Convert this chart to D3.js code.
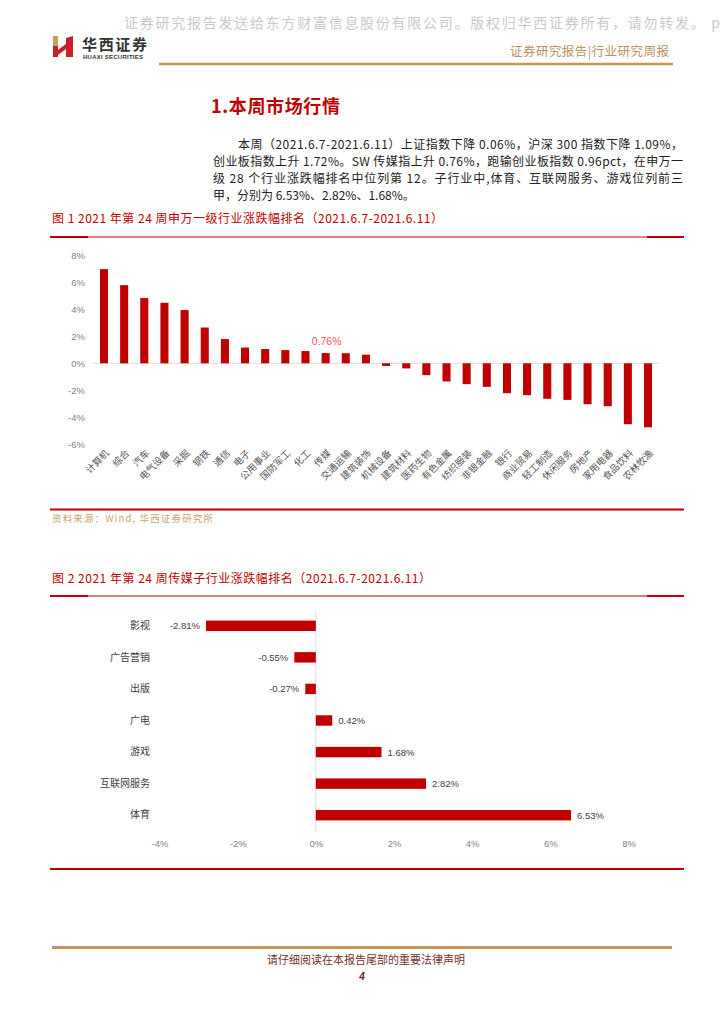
<!DOCTYPE html>
<html lang="zh">
<head>
<meta charset="utf-8" />
<title>行业研究周报</title>
<script src="https://d3js.org/d3.v7.min.js"></script>
<style>
  body { margin: 0; background: #fff; }
  svg text { font-family: "Noto Sans CJK SC", "Liberation Sans", sans-serif; }
  svg text.num { font-family: "Liberation Sans", "Noto Sans CJK SC", sans-serif; }
</style>
</head>
<body>
<script>
// ---- 图1：申万一级行业涨跌幅 (%) ----
var industries = ["计算机","综合","汽车","电气设备","采掘","钢铁","通信","电子","公用事业","国防军工",
  "化工","传媒","交通运输","建筑装饰","机械设备","建筑材料","医药生物","有色金属","纺织服装","非银金融",
  "银行","商业贸易","轻工制造","休闲服务","房地产","家用电器","食品饮料","农林牧渔"];
var industryChg = [7.00, 5.81, 4.85, 4.50, 3.96, 2.66, 1.80, 1.17, 1.06, 0.98,
  0.91, 0.76, 0.75, 0.64, -0.20, -0.38, -0.88, -1.35, -1.55, -1.75,
  -2.22, -2.37, -2.64, -2.72, -3.04, -3.19, -4.53, -4.76];
var yTicks1 = [8, 6, 4, 2, 0, -2, -4, -6];
var highlight1 = "传媒";

// ---- 图2：传媒子行业涨跌幅 (%) ----
var subIndustries = ["影视","广告营销","出版","广电","游戏","互联网服务","体育"];
var subChg = [-2.81, -0.55, -0.27, 0.42, 1.68, 2.82, 6.53];
var xTicks2 = [-4, -2, 0, 2, 4, 6, 8];

// ---- 页面文字 ----
var watermark = "证券研究报告发送给东方财富信息股份有限公司。版权归华西证券所有，请勿转发。 p";
var headerRight = "证券研究报告|行业研究周报";
var sectionTitle = "1.本周市场行情";
var paraLines = [
  "本周（2021.6.7-2021.6.11）上证指数下降 0.06%，沪深 300 指数下降 1.09%，",
  "创业板指数上升 1.72%。SW 传媒指上升 0.76%，跑输创业板指数 0.96pct，在申万一",
  "级 28 个行业涨跌幅排名中位列第 12。子行业中,体育、互联网服务、游戏位列前三",
  "甲，分别为 6.53%、2.82%、1.68%。"
];
var fig1Title = "图 1 2021 年第 24 周申万一级行业涨跌幅排名（2021.6.7-2021.6.11）";
var fig2Title = "图 2 2021 年第 24 周传媒子行业涨跌幅排名（2021.6.7-2021.6.11）";
var sourceNote = "资料来源：Wind, 华西证券研究所";
var footerNote = "请仔细阅读在本报告尾部的重要法律声明";
var pageNo = "4";

var red = "#c00000", gold = "#c8965a", goldText = "#b8925a";

var svg = d3.select("body").append("svg")
  .attr("width", 724).attr("height", 1024);

// header
svg.append("text").text(watermark)
  .attr("x", 124).attr("y", 22).attr("dominant-baseline", "central")
  .attr("font-size", 14).attr("fill", "#c9c9c9")
  .attr("textLength", 596).attr("lengthAdjust", "spacing");

var logo = svg.append("g");
logo.append("rect").attr("x", 53).attr("y", 36).attr("width", 5).attr("height", 10).attr("fill", "#c4a064");
logo.append("rect").attr("x", 53).attr("y", 46).attr("width", 5).attr("height", 11).attr("fill", "#c8202a");
logo.append("path").attr("d", "M66,38 L73,36 L73,57 L66,57 Z").attr("fill", "#c8202a");
logo.append("path").attr("d", "M58,50 L66,44 L66,49 L58,55 Z").attr("fill", "#c8202a");
svg.append("text").text("华西证券")
  .attr("x", 82).attr("y", 43.5).attr("dominant-baseline", "central")
  .attr("font-size", 15).attr("font-weight", "bold").attr("fill", "#333")
  .attr("textLength", 65);
svg.append("text").text("HUAXI SECURITIES").attr("class", "num")
  .attr("x", 83).attr("y", 57).attr("dominant-baseline", "central")
  .attr("font-size", 6).attr("font-weight", "bold").attr("fill", "#333")
  .attr("textLength", 60);
svg.append("text").text(headerRight)
  .attr("x", 510).attr("y", 50).attr("dominant-baseline", "central")
  .attr("font-size", 12.5).attr("fill", goldText).attr("textLength", 159);
svg.append("line").attr("x1", 159).attr("x2", 673).attr("y1", 64).attr("y2", 64)
  .attr("stroke", gold).attr("stroke-width", 2.5);

// section title + paragraph
svg.append("text").text(sectionTitle)
  .attr("x", 211).attr("y", 105).attr("dominant-baseline", "central")
  .attr("font-size", 18).attr("font-weight", "bold").attr("fill", red)
  .attr("textLength", 129);

svg.append("g").selectAll("text")
  .data(paraLines)
  .join("text")
  .text(d => d)
  .attr("x", (d, i) => i === 0 ? 238 : 213)
  .attr("y", (d, i) => 143 + i * 17)
  .attr("dominant-baseline", "central")
  .attr("font-size", 12).attr("fill", "#222")
  .each(function (d, i) {
    if (i < paraLines.length - 1) {
      d3.select(this).attr("textLength", 683 - (i === 0 ? 238 : 213)).attr("lengthAdjust", "spacing");
    }
  });

// figure titles and rules
function figRule(y) {
  svg.append("line").attr("x1", 50).attr("x2", 684).attr("y1", y).attr("y2", y)
    .attr("stroke", red).attr("stroke-width", 1.2);
  svg.append("line").attr("x1", 50).attr("x2", 88).attr("y1", y).attr("y2", y)
    .attr("stroke", red).attr("stroke-width", 2);
  svg.append("line").attr("x1", 647).attr("x2", 684).attr("y1", y).attr("y2", y)
    .attr("stroke", red).attr("stroke-width", 2);
}
svg.append("text").text(fig1Title)
  .attr("x", 52).attr("y", 217).attr("dominant-baseline", "central")
  .attr("font-size", 12).attr("fill", red).attr("textLength", 391);
figRule(237);

// ---------- chart 1 ----------
var x1 = d3.scaleBand().domain(industries).range([93, 659])
  .paddingInner(0.6).paddingOuter(0.346);
var y1 = d3.scaleLinear().domain([-6, 8]).range([444, 255.7]);

var c1 = svg.append("g");
c1.append("line")
  .attr("x1", 93).attr("x2", 659).attr("y1", y1(0)).attr("y2", y1(0))
  .attr("stroke", "#d9d9d9").attr("stroke-width", 1);

c1.append("g").selectAll("rect")
  .data(industries)
  .join("rect")
  .attr("x", d => x1(d))
  .attr("width", x1.bandwidth())
  .attr("y", (d, i) => y1(Math.max(0, industryChg[i])))
  .attr("height", (d, i) => Math.abs(y1(industryChg[i]) - y1(0)))
  .attr("fill", red);

var yAxis1 = c1.append("g")
  .attr("transform", "translate(87,0)")
  .call(d3.axisLeft(y1).tickValues(yTicks1).tickSize(0).tickPadding(2)
    .tickFormat(d => d + "%"));
yAxis1.select(".domain").remove();
yAxis1.selectAll("text").attr("class", "num")
  .attr("font-size", 9.5).attr("fill", "#7f7f7f");

c1.append("g").selectAll("text")
  .data(industries)
  .join("text")
  .text(d => d)
  .attr("transform", d => `translate(${x1(d) + x1.bandwidth() / 2 + 3},${451}) rotate(-45)`)
  .attr("text-anchor", "end")
  .attr("dominant-baseline", "central")
  .attr("font-size", 9.5).attr("fill", "#555");

var hi = industries.indexOf(highlight1);
c1.append("text").attr("class", "num")
  .text(industryChg[hi].toFixed(2) + "%")
  .attr("x", x1(highlight1) + x1.bandwidth() / 2 + 1)
  .attr("y", y1(industryChg[hi]) - 12)
  .attr("text-anchor", "middle").attr("dominant-baseline", "central")
  .attr("font-size", 10.5).attr("fill", "#ff5050");

svg.append("line").attr("x1", 50).attr("x2", 684).attr("y1", 509.5).attr("y2", 509.5)
  .attr("stroke", red).attr("stroke-width", 2);
svg.append("text").text(sourceNote)
  .attr("x", 52).attr("y", 518).attr("dominant-baseline", "central")
  .attr("font-size", 9.5).attr("fill", "#c8a470").attr("textLength", 161);

// ---------- chart 2 ----------
svg.append("text").text(fig2Title)
  .attr("x", 52).attr("y", 577).attr("dominant-baseline", "central")
  .attr("font-size", 12).attr("fill", red).attr("textLength", 379);
figRule(596);

var x2 = d3.scaleLinear().domain([-4, 8]).range([159.5, 628.5]);
var y2 = d3.scaleBand().domain(subIndustries).range([610, 831])
  .paddingInner(0.67).paddingOuter(0.335);

var c2 = svg.append("g");
c2.append("line")
  .attr("x1", x2(0)).attr("x2", x2(0)).attr("y1", 610).attr("y2", 832)
  .attr("stroke", "#d9d9d9").attr("stroke-width", 1);

c2.append("g").selectAll("rect")
  .data(subIndustries)
  .join("rect")
  .attr("y", d => y2(d))
  .attr("height", y2.bandwidth())
  .attr("x", (d, i) => x2(Math.min(0, subChg[i])))
  .attr("width", (d, i) => Math.abs(x2(subChg[i]) - x2(0)))
  .attr("fill", red);

c2.append("g").selectAll("text")
  .data(subIndustries)
  .join("text").attr("class", "num")
  .text((d, i) => subChg[i].toFixed(2) + "%")
  .attr("x", (d, i) => x2(subChg[i]) + (subChg[i] < 0 ? -6 : 6))
  .attr("y", d => y2(d) + y2.bandwidth() / 2)
  .attr("text-anchor", (d, i) => subChg[i] < 0 ? "end" : "start")
  .attr("dominant-baseline", "central")
  .attr("font-size", 9.5).attr("fill", "#404040");

var yAxis2 = c2.append("g")
  .attr("transform", "translate(150,0)")
  .call(d3.axisLeft(y2).tickSize(0).tickPadding(0));
yAxis2.select(".domain").remove();
yAxis2.selectAll("text").attr("font-size", 10).attr("fill", "#404040");

var xAxis2 = c2.append("g")
  .attr("transform", "translate(0,838)")
  .call(d3.axisBottom(x2).tickValues(xTicks2).tickSize(0).tickPadding(2)
    .tickFormat(d => d + "%"));
xAxis2.select(".domain").remove();
xAxis2.selectAll("text").attr("class", "num")
  .attr("font-size", 9.5).attr("fill", "#7f7f7f");

svg.append("line").attr("x1", 50).attr("x2", 684).attr("y1", 869).attr("y2", 869)
  .attr("stroke", red).attr("stroke-width", 2);

// footer
svg.append("line").attr("x1", 52).attr("x2", 672).attr("y1", 947.5).attr("y2", 947.5)
  .attr("stroke", gold).attr("stroke-width", 2.8);
svg.append("text").text(footerNote)
  .attr("x", 366).attr("y", 959).attr("text-anchor", "middle").attr("dominant-baseline", "central")
  .attr("font-size", 11).attr("fill", "#7a2e2e");
svg.append("text").text(pageNo).attr("class", "num")
  .attr("x", 362).attr("y", 976).attr("text-anchor", "middle").attr("dominant-baseline", "central")
  .attr("font-size", 10).attr("font-weight", "bold").attr("font-style", "italic").attr("fill", "#6b1a1a");
</script>
</body>
</html>
